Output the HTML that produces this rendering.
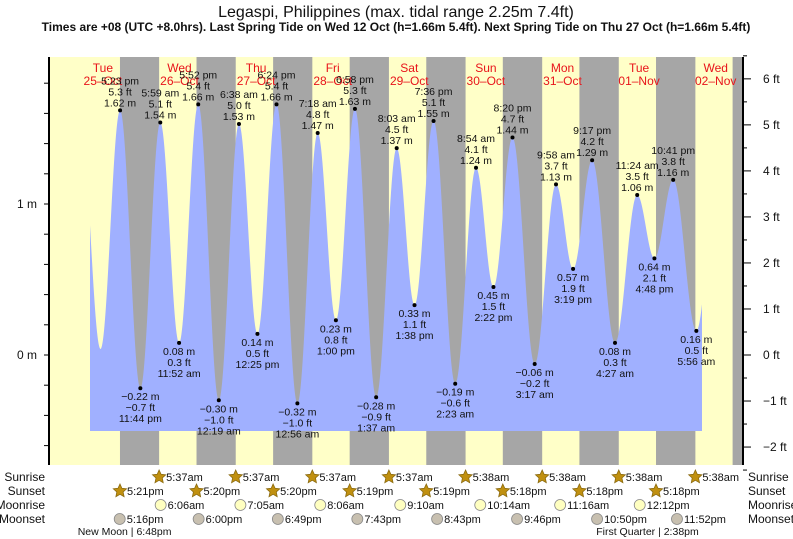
<!DOCTYPE html>
<html><head><meta charset="utf-8"><style>
body{margin:0;background:#fff;}
svg{display:block;font-family:"Liberation Sans",sans-serif;}
</style></head><body>
<svg id="chart" width="793" height="539" viewBox="0 0 793 539">
<text x="396" y="17" text-anchor="middle" font-size="16" fill="#111">Legaspi, Philippines (max. tidal range 2.25m 7.4ft)</text>
<text x="396" y="31" text-anchor="middle" font-size="12" font-weight="bold" fill="#111">Times are +08 (UTC +8.0hrs). Last Spring Tide on Wed 12 Oct (h=1.66m 5.4ft). Next Spring Tide on Thu 27 Oct (h=1.66m 5.4ft)</text>
<g id="bg"></g><g id="tide"></g><g id="axes"></g><g id="labels"></g><g id="rows"></g>
</svg>
<script>
const dayNames=["Tue","Wed","Thu","Fri","Sat","Sun","Mon","Tue","Wed"];
const dayDates=["25-Oct","26-Oct","27-Oct","28-Oct","29-Oct","30-Oct","31-Oct","01-Nov","02-Nov"];
const tideTimes=["25 05:05","25 11:15","25 17:23","25 23:44","26 05:59","26 11:52","26 17:52","27 00:19","27 06:38","27 12:25","27 18:24","28 00:56","28 07:18","28 13:00","28 18:58","29 01:37","29 08:03","29 13:38","29 19:36","30 02:23","30 08:54","30 14:22","30 20:20","31 03:17","31 09:58","31 15:19","31 21:17","32 04:27","32 11:24","32 16:48","32 22:41","33 05:56","33 12:10"];
const tideHeights=[1.52,0.04,1.62,-0.22,1.54,0.08,1.66,-0.30,1.53,0.14,1.66,-0.32,1.47,0.23,1.63,-0.28,1.37,0.33,1.55,-0.19,1.24,0.45,1.44,-0.06,1.13,0.57,1.29,0.08,1.06,0.64,1.16,0.16,1.10];
const labelled=tideTimes.map((t,i)=>i>=2&&i<=31);
const sunsets=["25 17:21","26 17:20","27 17:20","28 17:19","29 17:19","30 17:18","31 17:18","32 17:18","33 17:18"];
const sunrises=["26 05:37","27 05:37","28 05:37","29 05:37","30 05:38","31 05:38","32 05:38","33 05:38"];
const moonrises=["26 06:06","27 07:05","28 08:06","29 09:10","30 10:14","31 11:16","32 12:12"];
const moonsets=["25 17:16","26 18:00","27 18:49","28 19:43","29 20:43","30 21:46","31 22:50","32 23:52"];
const phases=[["New Moon","25 18:48"],["First Quarter","32 14:38"]];
const mTicks=[0,1];
const ftTicks=[-2,-1,0,1,2,3,4,5,6];

const NS="http://www.w3.org/2000/svg";
const X0=141.2, DAY=76.6, Y0=355, PXM=151;
const PL=49, PR=743, PT=57, PB=465, CX0=90, CX1=702, CB=431;
function tday(s){const [d,hm]=s.split(" ");const [h,m]=hm.split(":").map(Number);return (d-26)+(h+m/60)/24;}
function xs(s){return X0+tday(s)*DAY;}
function xt(t){return X0+t*DAY;}
function ym(v){return Y0-v*PXM;}
function el(tag,attrs,parent,text){const e=document.createElementNS(NS,tag);for(const k in attrs)e.setAttribute(k,attrs[k]);if(text!==undefined)e.textContent=text;parent.appendChild(e);return e;}
function fmt(s){const hm=s.split(" ")[1];let [h,m]=hm.split(":").map(Number);const ap=h>=12?"pm":"am";h=h%12;if(h===0)h=12;return h+":"+String(m).padStart(2,"0")+" "+ap;}
function neg(v,d){const s=Math.abs(v).toFixed(d);return (v<0?"\u2212":"")+s;}

const bg=document.getElementById("bg");
let r=el("rect",{x:PL,y:PT,width:PR-PL,height:PB-PT,fill:"#ffffc8"},bg);


for(let i=0;i<sunsets.length;i++){
  const a=xs(sunsets[i]);const b=i<sunrises.length?xs(sunrises[i]):PR;
  const n=el("rect",{x:a,y:PT,width:Math.min(b,PR)-a,height:PB-PT,fill:"#a6a6a6"},bg);
  
  
}
// day labels
for(let i=0;i<dayNames.length;i++){
  const x=xt(i-1+0.5);
  const t1=el("text",{x:x,y:72,"text-anchor":"middle","font-size":12,fill:"#e8141a"},bg,dayNames[i]);
  
  
  const t2=el("text",{x:x,y:85,"text-anchor":"middle","font-size":12,fill:"#e8141a"},bg,dayDates[i].replace("-","\u2013"));
  
  
}
// tide curve
const tt=tideTimes.map(tday);
function level(t){
  for(let i=0;i<tt.length-1;i++){
    if(t>=tt[i]&&t<=tt[i+1]){const f=(t-tt[i])/(tt[i+1]-tt[i]);return tideHeights[i]+(tideHeights[i+1]-tideHeights[i])*(1-Math.cos(Math.PI*f))/2;}
  }
  return tideHeights[tideHeights.length-1];
}
let d="M"+CX0+","+CB;
for(let x=CX0;x<=CX1;x+=0.5){d+=" L"+x+","+ym(level((x-X0)/DAY)).toFixed(1);}
d+=" L"+CX1+","+CB+" Z";
const tg=document.getElementById("tide");
const area=el("path",{d:d,fill:"#a0b0ff"},tg);


// labels
const lg=document.getElementById("labels");
for(let i=0;i<tideTimes.length;i++){
  if(!labelled[i])continue;
  const x=xs(tideTimes[i]),y=ym(tideHeights[i]);
  const hi=i%2===0;
  const dot=el("circle",{cx:x,cy:y,r:2,fill:"#000"},lg);
  
  
  const m=neg(tideHeights[i],2)+" m",ft=neg(tideHeights[i]*3.2808,1)+" ft",tm=fmt(tideTimes[i]);
  const lines=hi?[tm,ft,m]:[m,ft,tm];
  const ys=hi?[y-26,y-15,y-4]:[y+12,y+23,y+34];
  for(let k=0;k<3;k++){
    const t=el("text",{x:x,y:ys[k],"text-anchor":"middle","font-size":10.5,fill:"#111"},lg,lines[k]);
    
    
  }
}
// axes
const ax=document.getElementById("axes");
let a1=el("line",{x1:PL,y1:PT,x2:PL,y2:PB,stroke:"#000","stroke-width":2},ax);


let a2=el("line",{x1:PR,y1:PT,x2:PR,y2:PB,stroke:"#000","stroke-width":2},ax);


for(let v=-0.6;v<=1.81;v+=0.2){
  const y=ym(v);
  const tk=el("line",{x1:PL-5,y1:y,x2:PL,y2:y,stroke:"#000"},ax);
  
  
}
mTicks.forEach(v=>{
  const t=el("text",{x:PL-12,y:ym(v)+4,"text-anchor":"end","font-size":12,fill:"#111"},ax,v+" m");
  
  
});
for(let f=-2.5;f<=6.51;f+=0.5){
  const y=ym(f*0.3048);
  const tk=el("line",{x1:PR,y1:y,x2:PR+(Number.isInteger(f)?8:4),y2:y,stroke:"#000"},ax);
  
  
}
ftTicks.forEach(f=>{
  const t=el("text",{x:763,y:ym(f*0.3048)+4,"font-size":12,fill:"#111"},ax,(f<0?"\u2212"+(-f):f)+" ft");
  
  
});
// bottom rows
const rg=document.getElementById("rows");
const rowY=[481,495,509,523];
const rowNames=["Sunrise","Sunset","Moonrise","Moonset"];
rowNames.forEach((n,i)=>{
  const a=el("text",{x:45,y:rowY[i],"text-anchor":"end","font-size":12,fill:"#111"},rg,n);
  
  
  const b=el("text",{x:748,y:rowY[i],"font-size":12,fill:"#111"},rg,n);
  
  
});
function star(cx,cy,parent){
  let p="";for(let k=0;k<10;k++){const rr=k%2?3.3:7;const an=-Math.PI/2+k*Math.PI/5;p+=(cx+rr*Math.cos(an)).toFixed(1)+","+(cy+rr*Math.sin(an)).toFixed(1)+" ";}
  return el("polygon",{points:p,fill:"#c09010",stroke:"#8a6a10","stroke-width":0.8},parent);
}
function shortT(s){return fmt(s).replace(" ","");}
function iconRow(list,row,kind){
  list.forEach(s=>{
    const x=xs(s),cy=rowY[row]-4;
    let ic;
    if(kind==="sun")ic=star(x,cy,rg);
    else ic=el("circle",{cx:x,cy:cy,r:5.5,fill:kind==="mr"?"#ffffc0":"#c8c0b0",stroke:"#888","stroke-width":0.8},rg);
    
    
    const t=el("text",{x:x+7,y:rowY[row],"font-size":11,fill:"#111"},rg,shortT(s));
    
    
  });
}
iconRow(sunrises,0,"sun");iconRow(sunsets.slice(0,8),1,"sun");iconRow(moonrises,2,"mr");iconRow(moonsets,3,"ms");
phases.forEach(p=>{
  const x=xs(p[1]);
  const t=el("text",{x:x,y:535,"text-anchor":"middle","font-size":10.5,fill:"#111"},rg,p[0]+" | "+shortT(p[1]));
  
  
});
</script>
</body></html>
